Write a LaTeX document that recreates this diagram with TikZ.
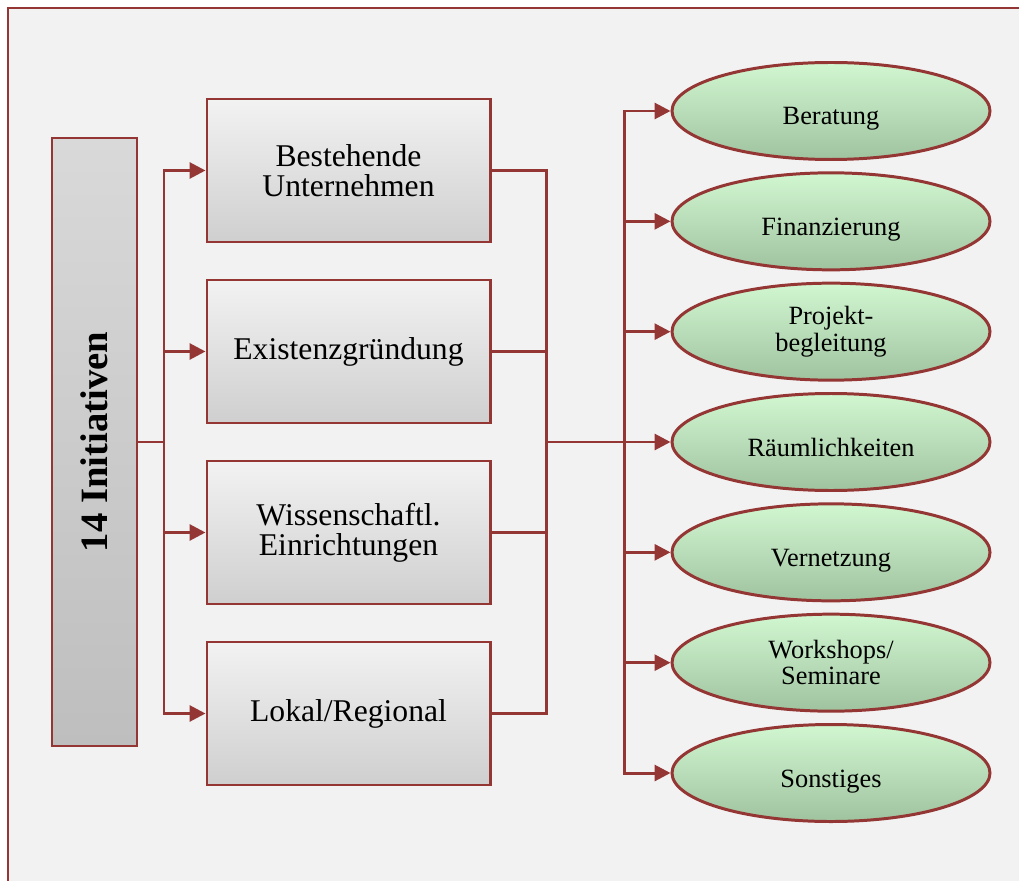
\documentclass[tikz,border=0pt]{standalone}
\usepackage{fontspec}
\setmainfont{Liberation Serif}
\usetikzlibrary{positioning,arrows.meta,shapes.geometric}
\definecolor{rim}{HTML}{943634}
\definecolor{paper}{HTML}{F2F2F2}
\definecolor{boxtop}{HTML}{F2F2F2}
\definecolor{boxbot}{HTML}{CFCFCF}
\definecolor{inittop}{HTML}{D9D9D9}
\definecolor{initbot}{HTML}{BEBEBE}
\definecolor{leaftop}{HTML}{D1F7D1}
\definecolor{leafbot}{HTML}{9FC39F}

\begin{document}
\begin{tikzpicture}[
  every node/.style={font=\fontsize{18}{17}\selectfont},
  frame/.style={draw=rim,line width=1.4pt,fill=paper},
  init/.style={draw=rim,line width=1.7pt,top color=inittop,bottom color=initbot,
    minimum width=1.7cm,minimum height=12.16cm,inner sep=0pt,
    font=\fontsize{22}{24}\selectfont\bfseries},
  box/.style={draw=rim,line width=1.7pt,top color=boxtop,bottom color=boxbot,
    minimum width=5.66cm,minimum height=2.86cm,align=center},
  oval/.style={ellipse,draw=rim,line width=1.7pt,top color=leaftop,bottom color=leafbot,
    minimum width=6.36cm,minimum height=1.94cm,inner sep=0pt,align=center,
    font=\fontsize{15}{15}\selectfont,text height=0.64cm,text depth=0.08cm},
  twoline/.style={text height={},text depth={}},
  link/.style={rim,line width=1.7pt,line cap=rect},
  arrow/.style={link,-{Triangle[length=0.32cm,width=0.32cm]}}
]
  \useasboundingbox (0,0) rectangle (20.38,-17.62);
  \clip (0,0) rectangle (20.38,-17.62);
  \draw[frame] (0.16,-0.16) rectangle (21,-18.5);

  % source and the four groups
  \node[init] (init) at (1.89,-8.84) {\rotatebox{90}{14 Initiativen}};
  \node[box] (b1) at (6.97,-3.41) {Bestehende\\Unternehmen};
  \node[box] (b2) at (6.97,-7.03) {Existenzgründung};
  \node[box] (b3) at (6.97,-10.65) {Wissenschaftl.\\Einrichtungen};
  \node[box] (b4) at (6.97,-14.27) {Lokal/Regional};

  % kinds of support
  \foreach \i/\txt/\st in {1/Beratung/,2/Finanzierung/,3/{Projekt-\\begleitung}/twoline,
      4/Räumlichkeiten/,5/Vernetzung/,6/{Workshops/\\Seminare}/twoline,7/Sonstiges/}{
    \node[oval,\st] (e\i) at (16.62,{-2.22-2.2067*(\i-1)}) {\txt};
  }

  \coordinate (split) at (3.28,-8.84);
  \coordinate (merge) at (10.92,-8.84);
  \coordinate (fork) at (12.48,-8.84);

  \draw[link] (init.east) -- (split);
  \draw[link] (split |- b1) -- (split |- b4);
  \foreach \i in {1,...,4}{
    \draw[arrow] (split |- b\i) -- (b\i.west);
    \draw[link] (b\i.east) -- (merge |- b\i);
  }
  \draw[link] (merge |- b1) -- (merge |- b4);
  \draw[link] (merge) -- (fork);
  \draw[link] (fork |- e1) -- (fork |- e7);
  \foreach \i in {1,...,7}
    \draw[arrow] (fork |- e\i) -- (e\i.west);
\end{tikzpicture}
\end{document}
